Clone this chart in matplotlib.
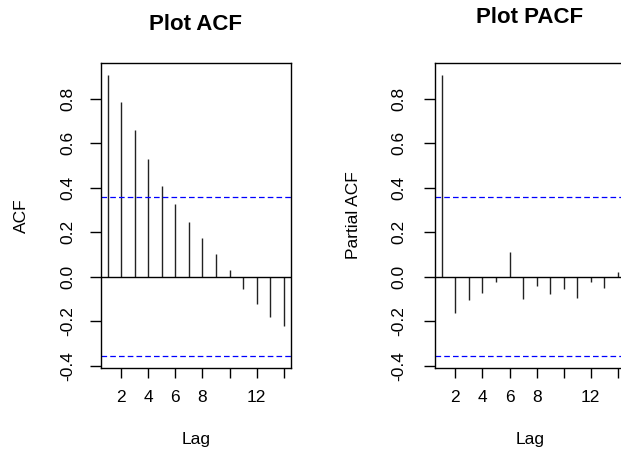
import matplotlib
matplotlib.use('Agg')
import matplotlib.pyplot as plt
import numpy as np

plt.rcParams['font.family'] = ['Liberation Sans', 'DejaVu Sans']
plt.rcParams['axes.unicode_minus'] = False

# values
lags = np.arange(1, 15)
acf_vals = [0.908, 0.787, 0.658, 0.529, 0.409, 0.328, 0.246, 0.174, 0.103, 0.031,
            -0.054, -0.121, -0.179, -0.221]
pacf_vals = [0.908, -0.161, -0.106, -0.075, -0.025, 0.110, -0.098, -0.042, -0.079,
             -0.055, -0.094, -0.022, -0.051, 0.021]
n_obs = 30
ci = 1.96 / np.sqrt(n_obs)

y_ticks = [-0.4, -0.2, 0.0, 0.2, 0.4, 0.6, 0.8]
x_ticks = [2, 4, 6, 8, 10, 12, 14]
x_labels = ['2', '4', '6', '8', '', '12', '']

W, H = 621, 453
fig = plt.figure(figsize=(W / 100, H / 100), dpi=100)


def r_range(lo, hi):
    d = (hi - lo) * 0.04
    return lo - d, hi + d


def draw(left_px, vals, title, ylabel, title_pad, ylab_x, ytick_pad):
    ax = fig.add_axes([left_px / W, 1 - 367.7 / H, 190 / W, 304.4 / H])
    ax.vlines(lags, 0, vals, color='#222222', lw=1.0)
    ax.axhline(0, color='black', lw=1.0)
    for c in (ci, -ci):
        ax.axhline(c, color='blue', lw=0.9, ls=(0, (4.5, 2.5)))
    ax.set_xlim(*r_range(lags.min(), lags.max()))
    ax.set_ylim(*r_range(min(-ci, min(vals)), max(ci, max(vals))))
    ax.set_yticks(y_ticks)
    ax.set_yticklabels([f'{v:.1f}' for v in y_ticks], rotation=90, va='center')
    ax.set_xticks(x_ticks)
    ax.set_xticklabels(x_labels)
    ax.tick_params(axis='y', length=8, width=1, pad=ytick_pad, labelsize=12.5)
    ax.tick_params(axis='x', length=7, width=1, pad=9, labelsize=12.5)
    for s in ax.spines.values():
        s.set_linewidth(1.0)
    ax.set_title(title, fontsize=16, fontweight='bold', pad=title_pad)
    ax.set_xlabel('Lag', fontsize=12.5)
    ax.xaxis.set_label_coords(0.5, -0.237)
    ax.xaxis.label.set_verticalalignment('center')
    ax.set_ylabel(ylabel, fontsize=12.5)
    ax.yaxis.set_label_coords(ylab_x, 0.5)
    ax.yaxis.label.set_verticalalignment('center')
    return ax


draw(100.7, acf_vals, 'Plot ACF', 'ACF', 24, -0.419, 10)
draw(434.8, pacf_vals, 'Plot PACF', 'Partial ACF', 29, -0.4305, 12.5)

fig.savefig('out.png', dpi=100)
